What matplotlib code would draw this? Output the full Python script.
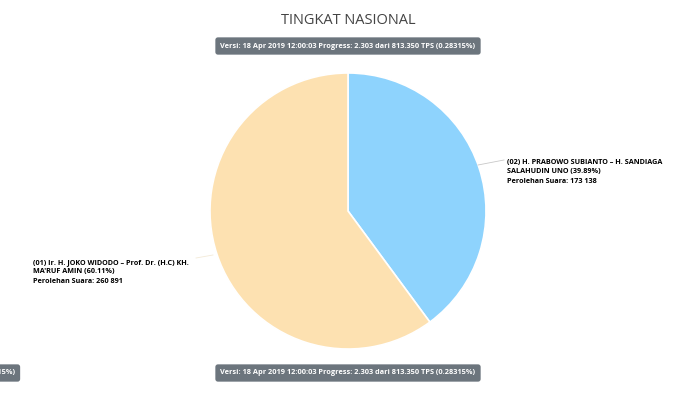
import matplotlib.pyplot as plt

# data
candidates = ['(02) H. PRABOWO SUBIANTO \u2013 H. SANDIAGA\nSALAHUDIN UNO',
              '(01) Ir. H. JOKO WIDODO \u2013 Prof. Dr. (H.C) KH.\nMA\'RUF AMIN']
votes = [173138, 260891]
percents = [39.89, 60.11]
colors = ['#8ED3FD', '#FDE1B1']

title = 'TINGKAT NASIONAL'
version = 'Versi: 18 Apr 2019 12:00:03 Progress: 2.303 dari 813.350 TPS (0.28315%)'

plt.rcParams['font.family'] = ['Open Sans', 'DejaVu Sans']

fig = plt.figure(figsize=(7, 3.93), dpi=100)
ax = fig.add_axes([0, 0, 1, 1])

wedges, _ = ax.pie(votes, colors=colors, startangle=90, counterclock=False,
                   center=(348, 182), radius=138,
                   wedgeprops=dict(edgecolor='white', linewidth=1.2))
ax.set_xlim(0, 700)
ax.set_ylim(0, 393)
ax.set_aspect('equal')
ax.axis('off')


def fmt(n):
    return f'{n:,}'.replace(',', ' ')


# label for Prabowo (right side)
ax.plot([478, 504], [228, 233], color='#c8c8c8', lw=0.6)
ax.text(507, 221, f'{candidates[0]} ({percents[0]}%)\nPerolehan Suara: {fmt(votes[0])}',
        ha='left', va='center', fontsize=5.2, fontweight='bold',
        color='#000000', linespacing=1.5)

# label for Jokowi (left side)
ax.plot([213, 196], [138, 135], color='#f3ead8', lw=0.6)
ax.text(33, 121, f'{candidates[1]} ({percents[1]}%)\nPerolehan Suara: {fmt(votes[1])}',
        ha='left', va='center', fontsize=5.2, fontweight='bold',
        color='#000000', linespacing=1.5)

ax.text(348, 372, title, ha='center', va='center', fontsize=10.5, color='#444444')

badge = dict(boxstyle='round,pad=0.7,rounding_size=0.35', facecolor='#6C757D',
             edgecolor='none')
ax.text(348, 347, version, ha='center', va='center', fontsize=5.3,
        fontweight='bold', color='white', bbox=badge)
ax.text(348, 20, version, ha='center', va='center', fontsize=5.3,
        fontweight='bold', color='white', bbox=badge)
ax.text(15, 20, version, ha='right', va='center', fontsize=5.3,
        fontweight='bold', color='white', bbox=badge, clip_on=False)

fig.savefig('out.png', dpi=100)
